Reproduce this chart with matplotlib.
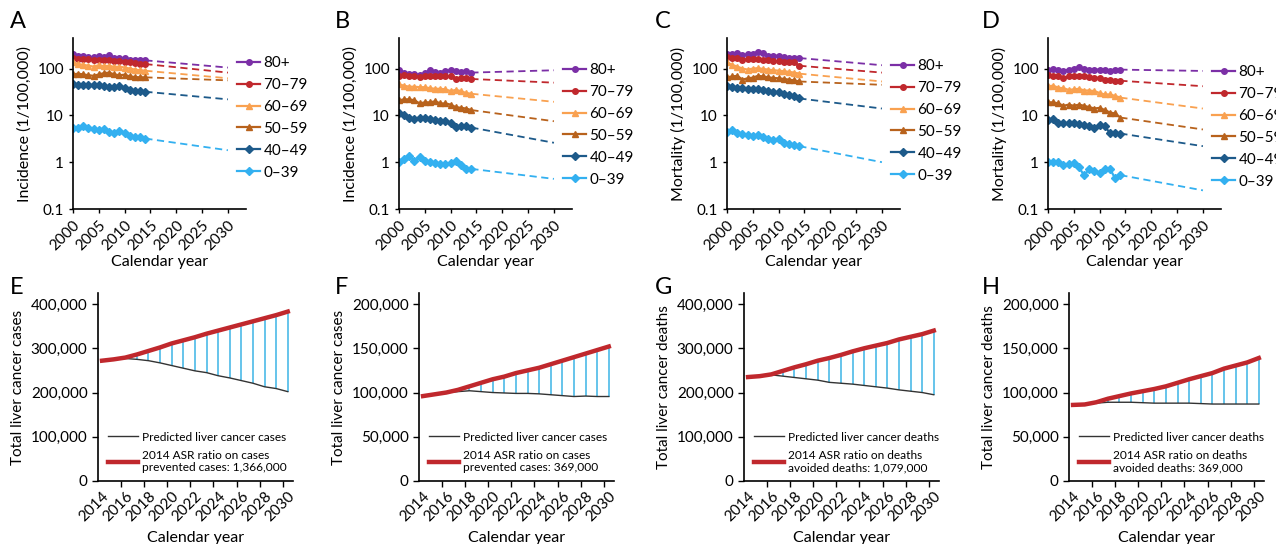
import numpy as np
import matplotlib.pyplot as plt
from matplotlib.ticker import FuncFormatter

plt.rcParams['font.family'] = ['Lato', 'DejaVu Sans']

# ---- top row: age-specific rates (log scale) ----
age_groups = ['80+', '70–79', '60–69', '50–59', '40–49', '0–39']
age_colors = ['#7B2FA6', '#C0282D', '#F9A150', '#B8621C', '#1D5A8A', '#33B0F0']
age_markers = ['o', 'o', '^', '^', 'D', 'D']
hist_years = np.arange(2000, 2015)
proj_years = [2014, 2030]

inc_m = [
    [200, 185, 190, 178, 175, 188, 180, 195, 170, 172, 165, 155, 150, 155, 150],
    [165, 160, 162, 158, 150, 155, 150, 152, 145, 148, 140, 135, 130, 128, 125],
    [135, 125, 120, 115, 110, 118, 112, 115, 108, 110, 105, 100, 95, 92, 90],
    [75, 78, 75, 72, 70, 75, 80, 82, 75, 72, 74, 68, 66, 65, 65],
    [46, 45, 45, 44, 45, 44, 42, 40, 41, 42, 38, 35, 34, 34, 32],
    [5.3, 5.5, 5.8, 5.4, 5.0, 4.8, 5.0, 4.5, 4.3, 4.7, 4.2, 3.7, 3.5, 3.5, 3.2],
]
inc_m_proj = [105, 82, 62, 56, 22, 1.8]

inc_f = [
    [95, 80, 75, 78, 72, 80, 92, 85, 82, 90, 92, 88, 85, 88, 82],
    [70, 72, 70, 68, 65, 68, 70, 68, 70, 68, 70, 60, 62, 62, 60],
    [46, 43, 41, 41, 40, 40, 38, 37, 37, 36, 33, 35, 33, 30, 29],
    [21, 22, 22, 21, 18, 19, 19, 20, 18, 18, 17, 15, 14.5, 14, 13],
    [11, 10, 9, 8.5, 9, 8.7, 8.5, 8, 7.5, 7.5, 7, 5.6, 5.8, 6, 5.5],
    [1.0, 1.15, 1.35, 1.05, 1.3, 1.05, 1.0, 0.95, 0.9, 0.92, 0.95, 1.05, 0.85, 0.72, 0.72],
]
inc_f_proj = [92, 50, 19.5, 7.5, 2.6, 0.44]

mort_m = [
    [205, 200, 215, 195, 200, 205, 230, 210, 190, 185, 190, 175, 170, 170, 168],
    [175, 168, 165, 155, 160, 158, 160, 155, 150, 148, 145, 140, 138, 135, 115],
    [135, 120, 110, 100, 95, 100, 102, 98, 95, 92, 90, 88, 85, 82, 78],
    [65, 68, 70, 58, 62, 64, 70, 68, 65, 63, 62, 60, 58, 56, 53],
    [42, 40, 39, 38, 37, 37, 36, 35, 33, 32, 31, 29, 27, 26, 23],
    [4.5, 4.8, 4.2, 4.0, 3.8, 3.6, 3.8, 3.4, 3.1, 3.0, 3.2, 2.6, 2.4, 2.3, 2.2],
]
mort_m_proj = [118, 82, 53, 45, 14, 1.0]

mort_f = [
    [95, 98, 92, 88, 95, 100, 108, 98, 92, 95, 95, 92, 90, 95, 95],
    [72, 70, 70, 62, 68, 70, 70, 70, 65, 62, 64, 58, 56, 55, 55],
    [42, 43, 39, 38, 35, 36, 37, 34, 34, 33, 30, 28, 28, 26, 24],
    [19, 19, 18, 16, 17, 16, 17, 16, 15, 14, 14.5, 13, 11.5, 11, 9],
    [8, 8.2, 7, 6.8, 6.8, 7, 6.5, 6.2, 6, 5.5, 6.3, 5.8, 4.2, 4.2, 4.1],
    [1.0, 1.0, 1.0, 0.88, 0.92, 0.95, 0.78, 0.52, 0.72, 0.65, 0.6, 0.72, 0.72, 0.45, 0.53],
]
mort_f_proj = [89, 42, 14, 5, 2.2, 0.25]

# ---- bottom row: totals 2014-2030 (thousands) ----
total_years = np.arange(2014, 2031)
cases_m_asr = [272, 275, 279, 286, 294, 302, 311, 318, 325, 333, 340, 347, 354, 361, 368, 375, 383]
cases_m_pred = [272, 275, 277, 275, 272, 267, 261, 255, 249, 245, 238, 233, 227, 221, 213, 209, 202]
cases_f_asr = [96, 98, 100, 103, 107, 111, 115, 118, 122, 125, 128, 132, 136, 140, 144, 148, 152]
cases_f_pred = [96, 98, 100, 101, 102, 101, 100, 99.5, 99, 99, 98.5, 97.5, 96.5, 95.5, 96, 95.5, 95.5]
deaths_m_asr = [235, 237, 241, 249, 257, 264, 272, 278, 285, 293, 300, 306, 312, 320, 326, 332, 340]
deaths_m_pred = [235, 238, 240, 237, 234, 231, 228, 223, 221, 219, 216, 213, 210, 206, 203, 200, 195]
deaths_f_asr = [86, 86.5, 89, 93, 96, 99, 101.5, 104, 107, 111, 115, 118.5, 122, 127, 130.5, 134, 139]
deaths_f_pred = [86, 86.5, 88, 89, 89, 89, 88.5, 88, 88, 88, 88, 87.5, 87, 87, 87, 87, 87]

top_panels = [
    ('A', 'Incidence (1/100,000)', inc_m, inc_m_proj),
    ('B', 'Incidence (1/100,000)', inc_f, inc_f_proj),
    ('C', 'Mortality (1/100,000)', mort_m, mort_m_proj),
    ('D', 'Mortality (1/100,000)', mort_f, mort_f_proj),
]
bottom_panels = [
    ('E', 'Total liver cancer cases', cases_m_pred, cases_m_asr, 400000,
     'Predicted liver cancer cases', '2014 ASR ratio on cases\nprevented cases: 1,366,000'),
    ('F', 'Total liver cancer cases', cases_f_pred, cases_f_asr, 200000,
     'Predicted liver cancer cases', '2014 ASR ratio on cases\nprevented cases: 369,000'),
    ('G', 'Total liver cancer deaths', deaths_m_pred, deaths_m_asr, 400000,
     'Predicted liver cancer deaths', '2014 ASR ratio on deaths\navoided deaths: 1,079,000'),
    ('H', 'Total liver cancer deaths', deaths_f_pred, deaths_f_asr, 200000,
     'Predicted liver cancer deaths', '2014 ASR ratio on deaths\navoided deaths: 369,000'),
]

W, H = 1276, 544
fig = plt.figure(figsize=(W / 100, H / 100), dpi=100)

def px_axes(left, right, top, bottom):
    return fig.add_axes([left / W, 1 - bottom / H, (right - left) / W, (bottom - top) / H])

top_lefts = [73, 399, 727, 1048]
top_leg_y = [62, 69, 65, 71]
letter_x = [10, 335, 655, 982]

for i, (letter, ylab, series, proj) in enumerate(top_panels):
    ax = px_axes(top_lefts[i], top_lefts[i] + 173, 38, 209)
    for vals, pend, col, mk, lab in zip(series, proj, age_colors, age_markers, age_groups):
        ax.plot(hist_years, vals, color=col, marker=mk, ms=4, lw=1.6, label=lab)
        ax.plot(proj_years, [vals[-1], pend], color=col, lw=1.3, ls=(0, (4, 2.5)))
    ax.set_yscale('log')
    ax.set_ylim(0.1, 450)
    ax.set_yticks([0.1, 1, 10, 100])
    ax.yaxis.set_major_formatter(FuncFormatter(lambda v, p: f'{v:g}'))
    ax.minorticks_off()
    ax.set_xlim(2000, 2033.5)
    ax.set_xticks(range(2000, 2031, 5))
    ax.set_xticklabels([str(y) for y in range(2000, 2031, 5)], rotation=45,
                       ha='right', rotation_mode='anchor')
    ax.set_ylabel(ylab, fontsize=11.5)
    ax.set_xlabel('Calendar year', fontsize=11.5)
    ax.xaxis.set_label_coords(0.5, -0.27)
    ax.tick_params(labelsize=11, length=3, width=1)
    for s in ['top', 'right']:
        ax.spines[s].set_visible(False)
    for s in ['left', 'bottom']:
        ax.spines[s].set_linewidth(1.2)
    yy = (209 - (top_leg_y[i] - 6)) / 171
    ax.legend(loc='upper left', bbox_to_anchor=(0.95, yy), frameon=False, fontsize=11,
              borderpad=0, borderaxespad=0, handlelength=1.5, handletextpad=0.2,
              labelspacing=0.52)
    fig.text(letter_x[i] / W, 1 - 22 / H, letter, fontsize=17, va='center')

bot_lefts = [98, 419, 744, 1069]
for i, (letter, ylab, pred, asr, ymax, lab1, lab2) in enumerate(bottom_panels):
    ax = px_axes(bot_lefts[i], bot_lefts[i] + 195, 293, 481)
    pred = np.array(pred) * 1000
    asr = np.array(asr) * 1000
    ax.vlines(total_years[1:], pred[1:], asr[1:], color='#3CB4E6', lw=1.1)
    ax.plot(total_years, pred, color='#333333', lw=1.0, label=lab1)
    ax.plot(total_years, asr, color='#C0282D', lw=3.2, label=lab2)
    ax.set_ylim(0, ymax * 1.0625)
    ax.set_yticks(np.linspace(0, ymax, 5))
    ax.yaxis.set_major_formatter(FuncFormatter(lambda v, p: f'{int(v):,}'))
    ax.set_xlim(2013.65, 2030.45)
    ax.set_xticks(range(2014, 2031, 2))
    ax.set_xticklabels([str(y) for y in range(2014, 2031, 2)], rotation=45,
                       ha='right', rotation_mode='anchor')
    ax.set_xticks(np.arange(2015.6, 2030, 2), minor=True)
    ax.tick_params(axis='x', which='major', length=0, pad=6)
    ax.tick_params(axis='x', which='minor', length=4, width=1)
    ax.tick_params(labelsize=11, axis='both')
    ax.tick_params(axis='y', length=4, width=1)
    ax.set_ylabel(ylab, fontsize=11)
    ax.set_xlabel('Calendar year', fontsize=11.5)
    ax.xaxis.set_label_coords(0.5, -0.265)
    for s in ['top', 'right']:
        ax.spines[s].set_visible(False)
    for s in ['left', 'bottom']:
        ax.spines[s].set_linewidth(1.2)
    ax.legend(loc='lower left', bbox_to_anchor=(0.05, 0.04), frameon=False, fontsize=8.6,
              borderpad=0, borderaxespad=0, handlelength=2.5, handletextpad=0.4,
              labelspacing=0.6)
    fig.text(letter_x[i] / W, 1 - 287 / H, letter, fontsize=17, va='center')

fig.savefig('out.png', dpi=100)
